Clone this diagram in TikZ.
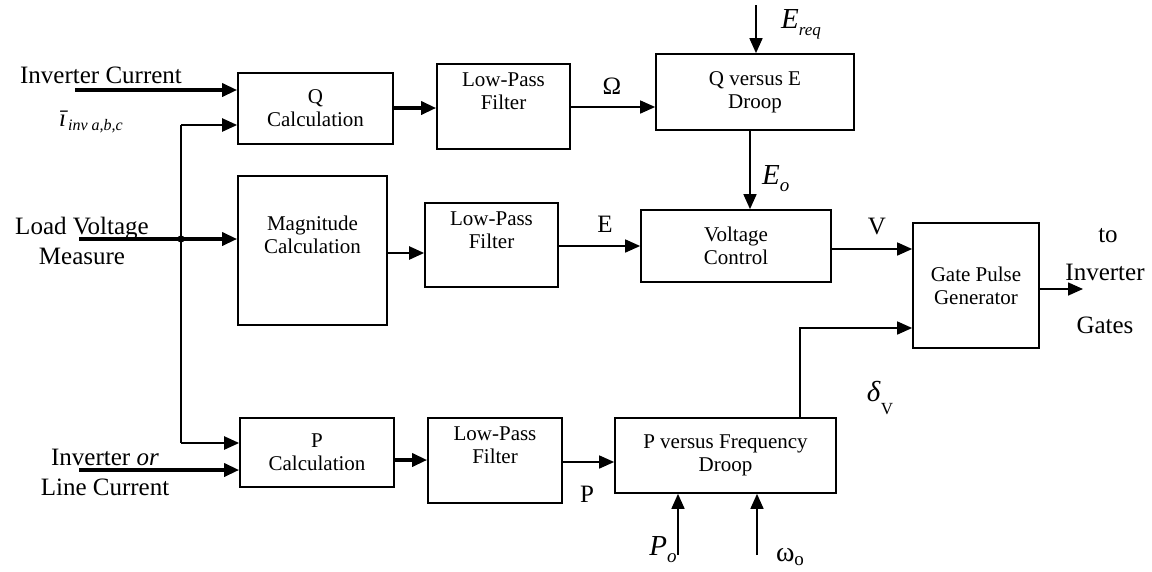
\documentclass[tikz,border=0pt]{standalone}
\usepackage{fontspec}
\setmainfont{Liberation Serif}
\usetikzlibrary{arrows.meta}
\begin{document}
\begin{tikzpicture}[x=1pt,y=-1pt,
  box/.style={draw, line width=1.7pt, align=center, inner sep=0pt,
    font=\fontsize{21}{23}\selectfont},
  lbl/.style={inner sep=0pt, font=\fontsize{25}{30}\selectfont},
  arr/.style={line width=1.6pt, -{Triangle[length=15pt,width=13pt]}},
  tarr/.style={arr, line width=3.4pt},
  marr/.style={arr, line width=2.3pt},
  wire/.style={line width=1.6pt}]
\useasboundingbox (0,0) rectangle (1152,571);

% blocks
\node[box, minimum width=155pt, minimum height=71pt] (qcalc) at (315.5,108.5) {Q\\Calculation};
\node[box, minimum width=149pt, minimum height=149pt] (mag) at (312.5,250.5) {};
\node[inner sep=0pt, align=center, font=\fontsize{21}{23}\selectfont] (magtxt) at (312.5,235) {Magnitude\\Calculation};
\node[box, minimum width=154pt, minimum height=69pt] (pcalc) at (317,452.5) {P\\Calculation};
\node[box, minimum width=133pt, minimum height=85pt] (lpfa) at (503.5,106.5) {Low-Pass\\Filter\\[8pt]};
\node[box, minimum width=133pt, minimum height=84pt] (lpfb) at (491.5,245) {Low-Pass\\Filter\\[6pt]};
\node[box, minimum width=134pt, minimum height=85pt] (lpfc) at (495,460.5) {Low-Pass\\Filter\\[8pt]};
\node[box, minimum width=198pt, minimum height=76pt] (qve) at (755,92) {Q versus E\\Droop};
\node[box, minimum width=190pt, minimum height=72pt] (vc) at (736,246) {Voltage\\Control};
\node[box, minimum width=221pt, minimum height=75pt] (pvf) at (725.5,455.5) {P versus Frequency\\Droop};
\node[box, minimum width=126pt, minimum height=125pt] (gp) at (976,285.5) {Gate Pulse\\Generator};

% free ends
\coordinate (ic) at (75,90);
\coordinate (lv) at (79,239);
\coordinate (j) at (181,239);
\coordinate (vt) at (181,125);
\coordinate (vb) at (181,443);
\coordinate (lc) at (79,470);
\coordinate (ereq) at (756,5);
\coordinate (po) at (678,555);
\coordinate (wo) at (757,555);
\coordinate (dk) at (800,328);
\coordinate (out) at (1083,289);

% input connectors
\draw[tarr] (ic) -- (ic -| qcalc.west);
\draw[tarr] (lv) -- (lv -| mag.west);
\draw[wire] (vt) -- (vb);
\draw[marr] (vt) -- (vt -| qcalc.west);
\draw[marr] (vb) -- (vb -| pcalc.west);
\fill (j) circle (3.6pt);
\draw[tarr] (lc) -- (lc -| pcalc.west);

% chain connectors
\draw[tarr] (qcalc.east |- 0,108) -- (lpfa.west |- 0,108);
\draw[arr] (lpfa.east |- 0,107) -- (qve.west |- 0,107);
\draw[marr] (mag.east |- 0,253) -- (lpfb.west |- 0,253);
\draw[arr] (lpfb.east |- 0,246) -- (vc.west |- 0,246);
\draw[tarr] (pcalc.east |- 0,460) -- (lpfc.west |- 0,460);
\draw[arr] (lpfc.east |- 0,462) -- (pvf.west |- 0,462);
\draw[arr] (ereq) -- (ereq |- qve.north);
\draw[arr] (qve.south -| 750,0) -- (vc.north -| 750,0);
\draw[arr] (vc.east |- 0,249) -- (gp.west |- 0,249);
\draw[arr] (pvf.north -| dk) -- (dk) -- (dk -| gp.west);
\draw[arr] (gp.east |- out) -- (out);
\draw[arr] (po) -- (po |- pvf.south);
\draw[arr] (wo) -- (wo |- pvf.south);

% labels
\node[lbl] (l1) at (101,75) {Inverter Current};
\node[lbl, anchor=west] (l2) at (59,122) {\textit{ī}\raisebox{-4pt}{\fontsize{16}{16}\selectfont\itshape inv a,b,c}};
\node[lbl, align=center, font=\fontsize{25}{30}\selectfont] (l3) at (82,241) {Load Voltage\\Measure};
\node[lbl, align=center, font=\fontsize{25}{30}\selectfont] (l4) at (105,472) {Inverter \textit{or}\\Line Current};
\node[lbl] (lq) at (612,86) {Ω};
\node[lbl] (le) at (605,224) {E};
\node[lbl] (lv2) at (877,226) {V};
\node[lbl] (lp) at (587,494) {P};
\node[lbl, anchor=west, font=\fontsize{29}{30}\selectfont] (lereq) at (781,24) {\textit{E}\raisebox{-7pt}{\fontsize{17}{17}\selectfont\itshape req}};
\node[lbl, anchor=west, font=\fontsize{29}{30}\selectfont] (leo) at (762,179) {\textit{E}\raisebox{-7pt}{\fontsize{19}{19}\selectfont\itshape o}};
\node[lbl, font=\fontsize{29}{30}\selectfont] (lpo) at (663,550) {\textit{P}\raisebox{-7pt}{\fontsize{19}{19}\selectfont\itshape o}};
\node[lbl, font=\fontsize{28}{30}\selectfont] (lwo) at (790,557) {ω\raisebox{-4pt}{\fontsize{19}{19}\selectfont o}};
\node[lbl, font=\fontsize{29}{30}\selectfont] (ldv) at (880,398) {\textit{δ}\raisebox{-13pt}{\fontsize{17}{17}\selectfont V}};
\node[lbl] (lto) at (1108,236) {to};
\node[lbl] (linv) at (1105,272) {Inverter};
\node[lbl] (lgates) at (1105,325) {Gates};
\end{tikzpicture}
\end{document}
